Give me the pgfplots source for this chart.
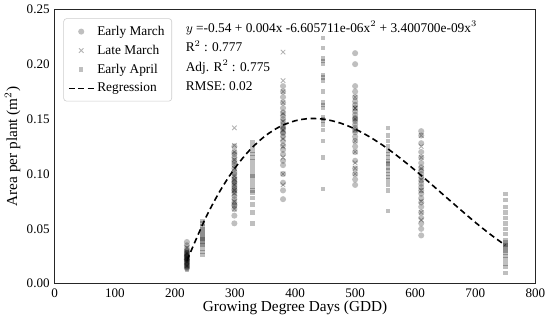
\documentclass[border=0pt]{standalone}
\usepackage{pgfplots}
\pgfplotsset{compat=1.18}
\usepackage{fontspec}
\setmainfont{Liberation Serif}
\begin{document}
\begin{tikzpicture}
\begin{axis}[
  scale only axis,
  width=331pt, height=189pt,
  xmin=0, xmax=800, ymin=0, ymax=0.25,
  xtick={0,100,...,800},
  ytick={0,0.05,0.10,0.15,0.20,0.25},
  yticklabel style={/pgf/number format/.cd, fixed, fixed zerofill, precision=2},
  /pgf/number format/assume math mode=true,
  tick label style={font=\fontsize{9}{10}\selectfont},
  label style={font=\fontsize{10.5}{12}\selectfont},
  major tick length=0pt,
  axis line style={black!85},
  xlabel={Growing Degree Days (GDD)},
  ylabel={Area per plant (m$^2$)},
  xlabel style={yshift=4.5pt},
  ylabel style={yshift=-2.5pt},
  legend style={at={(rel axis cs:0.018,0.967)}, anchor=north west, draw=black!20, rounded corners=2pt, font=\fontsize{9.2}{10}\selectfont, row sep=1.2pt, inner sep=3pt},
  legend cell align=left,
  clip=false,
]
\addplot[only marks, mark=*, mark size=2.1pt, mark options={draw=black, fill=black, fill opacity=0.25, draw opacity=0}] table[row sep=\\]{
x y\\
220 0.014\\ 220 0.016\\ 220 0.018\\ 220 0.019\\ 220 0.020\\ 220 0.021\\ 220 0.022\\ 220 0.023\\ 220 0.024\\ 220 0.025\\ 220 0.026\\ 220 0.027\\ 220 0.028\\ 220 0.030\\ 220 0.032\\ 220 0.035\\ 220 0.038\\ 220 0.017\\ 220 0.015\\ 220 0.022\\ 220 0.025\\ 220 0.029\\
299 0.055\\ 299 0.062\\ 299 0.068\\ 299 0.071\\ 299 0.074\\ 299 0.077\\ 299 0.080\\ 299 0.083\\ 299 0.085\\ 299 0.088\\ 299 0.090\\ 299 0.092\\ 299 0.095\\ 299 0.097\\ 299 0.100\\ 299 0.102\\ 299 0.105\\ 299 0.108\\ 299 0.110\\ 299 0.112\\ 299 0.115\\ 299 0.118\\ 299 0.120\\ 299 0.125\\ 299 0.072\\ 299 0.086\\ 299 0.093\\
380 0.077\\ 380 0.085\\ 380 0.092\\ 380 0.100\\ 380 0.108\\ 380 0.112\\ 380 0.118\\ 380 0.122\\ 380 0.126\\ 380 0.130\\ 380 0.134\\ 380 0.138\\ 380 0.141\\ 380 0.144\\ 380 0.147\\ 380 0.150\\ 380 0.153\\ 380 0.156\\ 380 0.160\\ 380 0.165\\ 380 0.170\\ 380 0.175\\ 380 0.180\\ 380 0.137\\ 380 0.142\\
500 0.090\\ 500 0.095\\ 500 0.100\\ 500 0.105\\ 500 0.112\\ 500 0.120\\ 500 0.125\\ 500 0.130\\ 500 0.134\\ 500 0.138\\ 500 0.142\\ 500 0.145\\ 500 0.148\\ 500 0.151\\ 500 0.154\\ 500 0.157\\ 500 0.160\\ 500 0.163\\ 500 0.166\\ 500 0.170\\ 500 0.175\\ 500 0.180\\ 500 0.200\\ 500 0.210\\ 500 0.140\\ 500 0.150\\
610 0.044\\ 610 0.050\\ 610 0.055\\ 610 0.060\\ 610 0.065\\ 610 0.070\\ 610 0.074\\ 610 0.078\\ 610 0.082\\ 610 0.085\\ 610 0.088\\ 610 0.091\\ 610 0.094\\ 610 0.097\\ 610 0.100\\ 610 0.103\\ 610 0.106\\ 610 0.110\\ 610 0.115\\ 610 0.120\\ 610 0.128\\ 610 0.135\\ 610 0.139\\
};
\addlegendentry{Early March}
\addplot[only marks, mark=x, mark size=2.2pt, mark options={draw=black, draw opacity=0.3, line width=0.6pt}] table[row sep=\\]{
x y\\
220 0.016\\ 220 0.020\\ 220 0.024\\ 220 0.028\\ 220 0.033\\
299 0.142\\ 299 0.126\\ 299 0.120\\ 299 0.113\\ 299 0.105\\ 299 0.098\\ 299 0.090\\ 299 0.082\\ 299 0.075\\ 299 0.068\\ 299 0.095\\ 299 0.085\\
380 0.211\\ 380 0.185\\ 380 0.175\\ 380 0.165\\ 380 0.155\\ 380 0.148\\ 380 0.140\\ 380 0.132\\ 380 0.125\\ 380 0.115\\ 380 0.100\\ 380 0.090\\
500 0.170\\ 500 0.160\\ 500 0.150\\ 500 0.140\\ 500 0.130\\ 500 0.120\\ 500 0.110\\ 500 0.105\\ 500 0.100\\ 500 0.160\\
610 0.135\\ 610 0.125\\ 610 0.115\\ 610 0.105\\ 610 0.095\\ 610 0.085\\ 610 0.075\\ 610 0.065\\ 610 0.058\\
};
\addlegendentry{Late March}
\addplot[only marks, mark=square*, mark size=1.5pt, mark options={draw=black, fill=black, fill opacity=0.25, draw opacity=0}] table[row sep=\\]{
x y\\
220 0.013\\ 220 0.017\\ 220 0.021\\ 220 0.025\\ 220 0.029\\
246 0.026\\ 246 0.029\\ 246 0.032\\ 246 0.035\\ 246 0.038\\ 246 0.040\\ 246 0.042\\ 246 0.044\\ 246 0.046\\ 246 0.048\\ 246 0.050\\ 246 0.052\\ 246 0.055\\ 246 0.057\\ 246 0.036\\ 246 0.041\\
329 0.055\\ 329 0.065\\ 329 0.072\\ 329 0.078\\ 329 0.083\\ 329 0.088\\ 329 0.092\\ 329 0.096\\ 329 0.100\\ 329 0.104\\ 329 0.108\\ 329 0.112\\ 329 0.115\\ 329 0.118\\ 329 0.121\\ 329 0.125\\ 329 0.129\\ 329 0.085\\ 329 0.098\\
446 0.086\\ 446 0.115\\ 446 0.130\\ 446 0.140\\ 446 0.145\\ 446 0.150\\ 446 0.152\\ 446 0.160\\ 446 0.163\\ 446 0.165\\ 446 0.175\\ 446 0.185\\ 446 0.188\\ 446 0.190\\ 446 0.200\\ 446 0.203\\ 446 0.205\\ 446 0.215\\ 446 0.224\\ 446 0.148\\
555 0.066\\ 555 0.085\\ 555 0.090\\ 555 0.094\\ 555 0.097\\ 555 0.100\\ 555 0.103\\ 555 0.106\\ 555 0.109\\ 555 0.112\\ 555 0.115\\ 555 0.118\\ 555 0.121\\ 555 0.125\\ 555 0.130\\ 555 0.135\\ 555 0.142\\ 555 0.110\\
750 0.010\\ 750 0.015\\ 750 0.018\\ 750 0.022\\ 750 0.025\\ 750 0.028\\ 750 0.030\\ 750 0.032\\ 750 0.034\\ 750 0.036\\ 750 0.038\\ 750 0.040\\ 750 0.045\\ 750 0.050\\ 750 0.055\\ 750 0.060\\ 750 0.065\\ 750 0.070\\ 750 0.076\\ 750 0.082\\ 750 0.035\\
};
\addlegendentry{Early April}
\addplot[black, line width=1.1pt, dash pattern=on 4pt off 2.5pt, smooth] coordinates {
(220,0.021) (250,0.0586) (275,0.0844) (300,0.1054) (325,0.1220) (350,0.1345) (375,0.1432) (400,0.1484) (425,0.1505) (450,0.1497) (475,0.1464) (500,0.1409) (525,0.1335) (550,0.1246) (575,0.1144) (600,0.1033) (625,0.0915) (650,0.0795) (675,0.0676) (700,0.0559) (725,0.0450) (750,0.035)
};
\addlegendentry{Regression}
\node[anchor=north west, align=left, inner sep=0pt, font=\fontsize{9.2}{13.4}\selectfont] at (rel axis cs:0.272,0.957) {%
$y$ =-0.54 + 0.004x -6.605711e-06x$^2$ + 3.400700e-09x$^3$\\
R$^2$ : 0.777\\
Adj. R$^2$ : 0.775\\
RMSE: 0.02};
\end{axis}
\end{tikzpicture}
\end{document}
